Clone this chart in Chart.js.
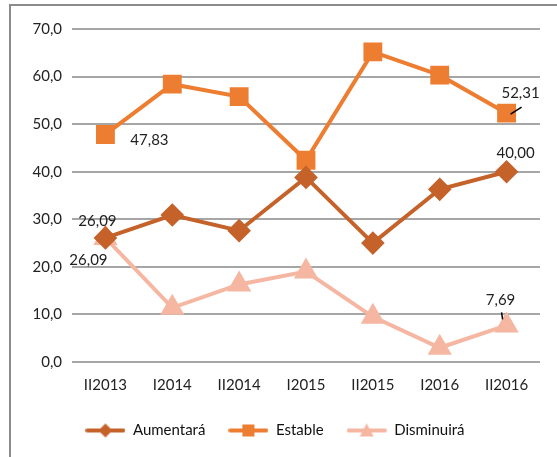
<!DOCTYPE html>
<html><head><meta charset="utf-8">
<script src="https://cdn.jsdelivr.net/npm/chart.js@4/dist/chart.umd.min.js"></script>
<style>
html,body{margin:0;padding:0;background:#fff;}
#wrap{position:relative;width:557px;height:457px;}
#frame{position:absolute;left:9px;top:4px;width:560px;height:470px;border-top:2px solid #8c8c8c;border-left:2px solid #8c8c8c;}
canvas{position:absolute;left:0;top:0;}
</style></head>
<body><div id="wrap"><div id="frame"></div><canvas id="c" width="557" height="457"></canvas></div>
<script>
const categories = ["II2013","I2014","II2014","I2015","II2015","I2016","II2016"];
const aumentara = [26.09, 30.9, 27.6, 38.8, 25.0, 36.3, 40.00];
const estable = [47.83, 58.4, 55.8, 42.4, 65.2, 60.3, 52.31];
const disminuira = [26.09, 11.4, 16.3, 19.0, 9.5, 3.0, 7.69];
const yTicks = [0,10,20,30,40,50,60,70];

const C_A = '#c5622a', C_E = '#ed7d31', C_D = '#f5b6a2';
const FONT = 'Lato, "Open Sans", sans-serif';

function legendIcon(color, style){
  const cv = document.createElement('canvas');
  cv.width = 40; cv.height = 16;
  const x = cv.getContext('2d');
  x.strokeStyle = color; x.lineWidth = 4; x.lineCap='round';
  x.beginPath(); x.moveTo(2,8); x.lineTo(38,8); x.stroke();
  x.fillStyle = color;
  x.beginPath();
  if(style==='diamond'){ x.moveTo(20,1); x.lineTo(27,8); x.lineTo(20,15); x.lineTo(13,8); x.closePath(); }
  else if(style==='square'){ x.rect(14,2,12,12); }
  else { x.moveTo(20,1); x.lineTo(27,14); x.lineTo(13,14); x.closePath(); }
  x.fill();
  return cv;
}
const icons = [legendIcon(C_A,'diamond'), legendIcon(C_E,'square'), legendIcon(C_D,'tri')];

const labelPlugin = {
  id:'labels',
  afterDatasetsDraw(chart){
    const ctx = chart.ctx;
    ctx.save();
    ctx.font = '15px ' + FONT;
    ctx.fillStyle = '#222';
    ctx.textBaseline = 'middle';
    ctx.textAlign = 'center';
    const pt = (d,i)=>chart.getDatasetMeta(d).data[i];
    const fmt = v=>v.toFixed(2).replace('.',',');
    let p = pt(1,0); ctx.fillText(fmt(estable[0]), p.x+44, p.y+6);
    p = pt(1,6); ctx.fillText(fmt(estable[6]), p.x+14, p.y-20);
    ctx.strokeStyle='#000'; ctx.lineWidth=1.5;
    ctx.beginPath(); ctx.moveTo(p.x+4,p.y+1); ctx.lineTo(p.x+15,p.y-6); ctx.stroke();
    p = pt(0,6); ctx.fillText(fmt(aumentara[6]), p.x+9, p.y-19);
    p = pt(0,0); ctx.fillText(fmt(aumentara[0]), p.x-8, p.y-17);
    p = pt(2,0); ctx.fillText(fmt(disminuira[0]), p.x-17, p.y+22);
    p = pt(2,6); ctx.fillText(fmt(disminuira[6]), p.x-6, p.y-25);
    ctx.beginPath(); ctx.moveTo(p.x-5,p.y-13); ctx.lineTo(p.x-4,p.y-6); ctx.stroke();
    ctx.restore();
  }
};

new Chart(document.getElementById('c'), {
  type:'line',
  data:{
    labels: categories,
    datasets:[
      {label:'Aumentará', data:aumentara, borderColor:C_A, backgroundColor:C_A, borderWidth:4, pointStyle:'rectRot', pointRadius:9, pointHoverRadius:9},
      {label:'Estable', data:estable, borderColor:C_E, backgroundColor:C_E, borderWidth:4, pointStyle:'rect', pointRadius:10.5, pointHoverRadius:10.5},
      {label:'Disminuirá', data:disminuira, borderColor:C_D, backgroundColor:C_D, borderWidth:4, pointStyle:'triangle', pointRadius:10, pointHoverRadius:10}
    ]
  },
  options:{
    responsive:false, animation:false,
    layout:{padding:{left:10, right:17, top:29, bottom:9}},
    scales:{
      x:{offset:true, grid:{display:false}, border:{display:false},
         ticks:{color:'#222', font:{family:FONT,size:15}, padding:6, maxRotation:0}},
      y:{min:0, max:70, afterFit(s){s.width=62;},
         afterBuildTicks(s){s.ticks = yTicks.map(v=>({value:v}));},
         grid:{color:'#a6a6a6', lineWidth:2, drawTicks:false}, border:{display:false},
         ticks:{color:'#222', font:{family:FONT,size:15}, padding:10, callback:v=>v.toFixed(1).replace('.',',')}}
    },
    plugins:{
      tooltip:{enabled:false},
      legend:{position:'bottom',
        labels:{usePointStyle:true, pointStyleWidth:40, color:'#111', font:{family:FONT,size:15}, padding:23,
          generateLabels(chart){
            return chart.data.datasets.map((d,i)=>({text:d.label, pointStyle:icons[i], fillStyle:d.borderColor, strokeStyle:d.borderColor, lineWidth:0, datasetIndex:i, fontColor:'#111'}));
          }}}
    }
  },
  plugins:[labelPlugin]
});
</script></body></html>
